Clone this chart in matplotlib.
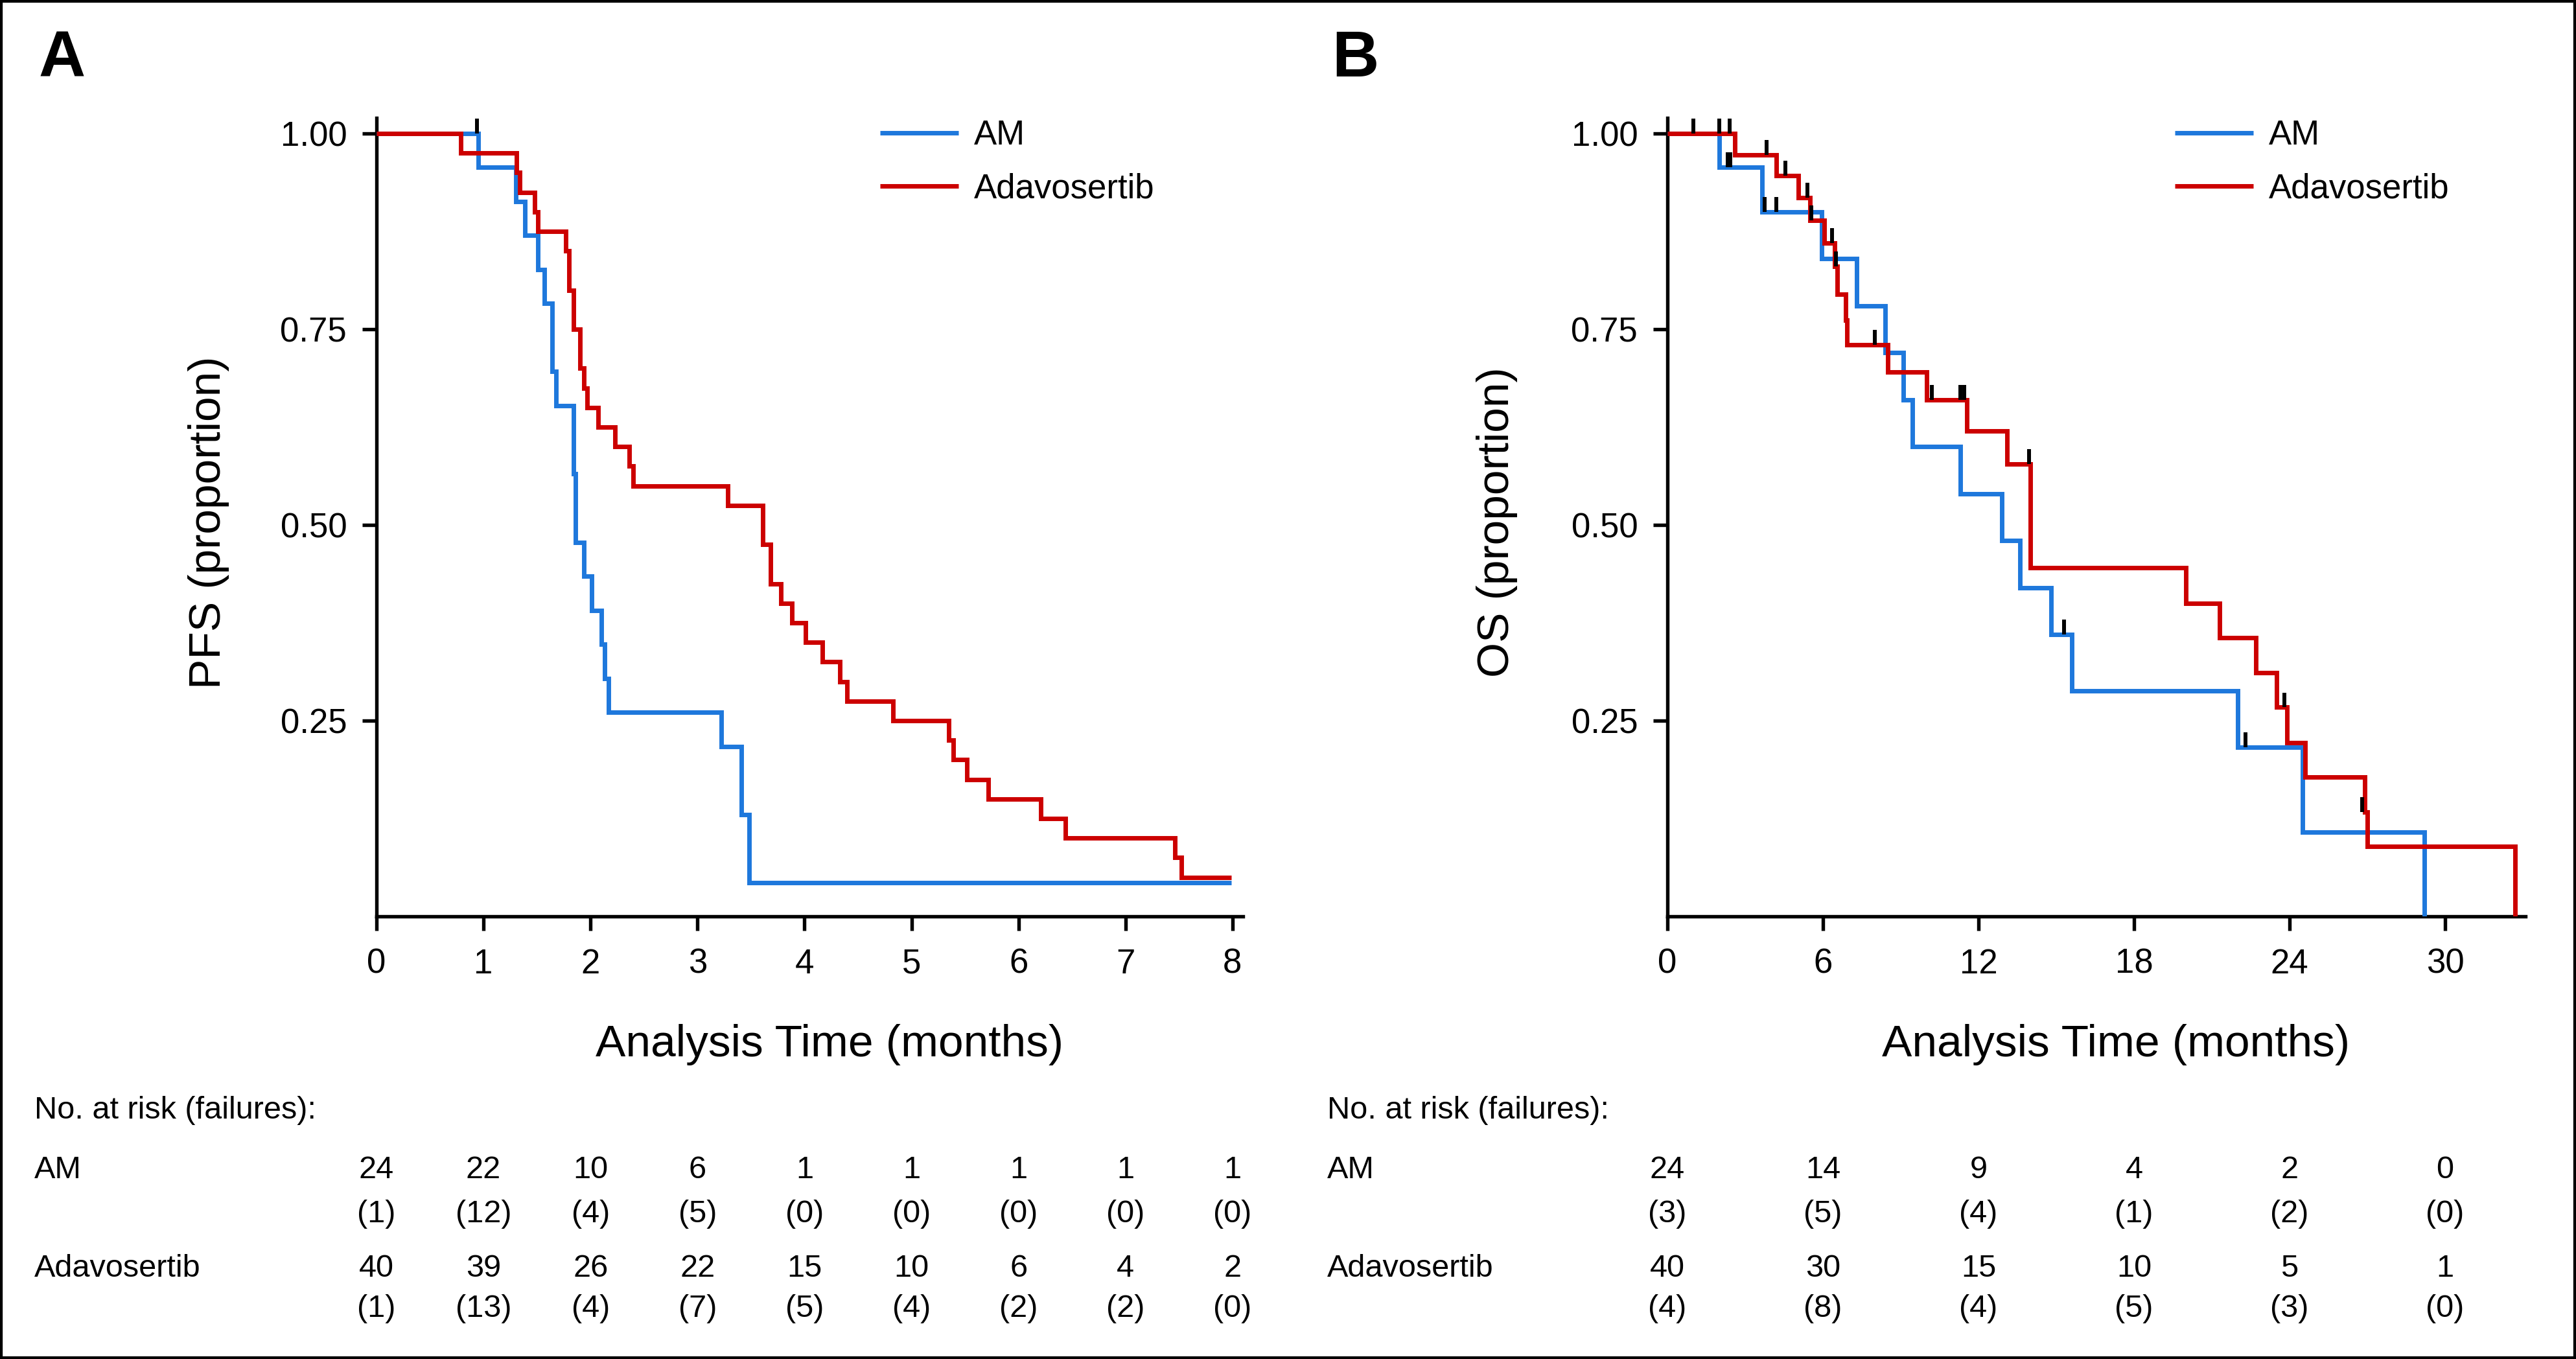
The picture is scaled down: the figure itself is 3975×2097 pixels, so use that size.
import matplotlib
matplotlib.use('Agg')
import matplotlib.pyplot as plt
import matplotlib.transforms as mtransforms
from matplotlib.patches import Rectangle

plt.rcParams['font.family'] = ['Liberation Sans', 'DejaVu Sans']

BLUE = '#1e78dc'
RED = '#cc0000'

# ---- Panel A: PFS (step times in months, survival after each step) ----
pfs_am_t = [0, 0.95, 1.30, 1.39, 1.51, 1.57, 1.64, 1.68, 1.84, 1.86, 1.94,
            2.01, 2.10, 2.13, 2.17, 3.22, 3.41, 3.48, 7.99]
pfs_am_s = [1.0, 0.957, 0.913, 0.870, 0.826, 0.783, 0.696, 0.652, 0.565, 0.478, 0.435,
            0.391, 0.348, 0.304, 0.261, 0.217, 0.130, 0.043, 0.043]
pfs_am_cens_t = [0.94]
pfs_am_cens_s = [1.0]

pfs_ad_t = [0, 0.79, 1.31, 1.34, 1.48, 1.51, 1.77, 1.80, 1.84, 1.90, 1.94, 1.97,
            2.07, 2.23, 2.36, 2.40, 3.28, 3.61, 3.68, 3.78, 3.88, 4.01, 4.17, 4.33,
            4.40, 4.83, 5.35, 5.39, 5.52, 5.72, 6.21, 6.44, 7.46, 7.52, 7.99]
pfs_ad_s = [1.0, 0.975, 0.95, 0.925, 0.90, 0.875, 0.85, 0.80, 0.75, 0.70, 0.675, 0.65,
            0.625, 0.60, 0.575, 0.55, 0.525, 0.475, 0.425, 0.40, 0.375, 0.35, 0.325, 0.30,
            0.275, 0.25, 0.225, 0.20, 0.175, 0.15, 0.125, 0.10, 0.075, 0.05, 0.05]

# ---- Panel B: OS ----
os_am_t = [0, 2.0, 3.65, 5.95, 7.3, 8.4, 9.1, 9.45, 11.3, 12.9, 13.6, 14.8, 15.6,
           22.0, 24.5, 29.2]
os_am_s = [1.0, 0.957, 0.90, 0.84, 0.78, 0.72, 0.66, 0.60, 0.54, 0.48, 0.42, 0.36, 0.288,
           0.216, 0.108, 0.0]
os_am_cens_t = [2.33, 2.42, 3.74, 4.2, 15.3, 22.3]
os_am_cens_s = [0.957, 0.957, 0.90, 0.90, 0.36, 0.216]

os_ad_t = [0, 2.6, 4.2, 5.05, 5.5, 6.05, 6.45, 6.55, 6.88, 6.92, 8.5, 10.0, 11.55,
           13.1, 14.0, 20.0, 21.3, 22.7, 23.5, 23.9, 24.6, 26.9, 27.0, 32.7]
os_ad_s = [1.0, 0.973, 0.946, 0.918, 0.889, 0.86, 0.83, 0.795, 0.762, 0.73, 0.695, 0.66, 0.62,
           0.578, 0.445, 0.40, 0.356, 0.311, 0.267, 0.222, 0.178, 0.133, 0.089, 0.0]
os_ad_cens_t = [1.0, 1.99, 2.39, 3.82, 4.55, 5.4, 5.55, 6.35, 6.5, 8.0, 10.2, 11.3, 11.45,
                13.95, 23.8, 26.8]
os_ad_cens_s = [1.0, 1.0, 1.0, 0.973, 0.946, 0.918, 0.889, 0.86, 0.83, 0.73, 0.66, 0.66, 0.66,
                0.578, 0.267, 0.133]

# ---- risk tables ----
pfs_times = [0, 1, 2, 3, 4, 5, 6, 7, 8]
pfs_am_risk = [24, 22, 10, 6, 1, 1, 1, 1, 1]
pfs_am_fail = [1, 12, 4, 5, 0, 0, 0, 0, 0]
pfs_ad_risk = [40, 39, 26, 22, 15, 10, 6, 4, 2]
pfs_ad_fail = [1, 13, 4, 7, 5, 4, 2, 2, 0]

os_times = [0, 6, 12, 18, 24, 30]
os_am_risk = [24, 14, 9, 4, 2, 0]
os_am_fail = [3, 5, 4, 1, 2, 0]
os_ad_risk = [40, 30, 15, 10, 5, 1]
os_ad_fail = [4, 8, 4, 5, 3, 0]

W, H = 3975, 2097
fig = plt.figure(figsize=(W / 100, H / 100), dpi=100)
fig.patches.append(Rectangle((0, 0), 1, 1, transform=fig.transFigure, fill=False,
                             lw=6, ec='black', zorder=10))

Y0, Y1 = 1414, 206  # pixel rows of S=0 and S=1
TICK_FS = 38
LABEL_FS = 50
TABLE_FS = 35


def make_axes(x0, px_per_unit, xmax):
    top = Y0 - 1.02 * (Y0 - Y1)
    ax = fig.add_axes([x0 / W, 1 - Y0 / H, xmax * px_per_unit / W, (Y0 - top) / H])
    ax.set_xlim(0, xmax)
    ax.set_ylim(0, 1.02)
    for s in ['top', 'right']:
        ax.spines[s].set_visible(False)
    for s in ['left', 'bottom']:
        ax.spines[s].set_linewidth(3.9)
    ax.tick_params(width=3.9, length=16, labelsize=TICK_FS, direction='out')
    ax.tick_params(axis='y', pad=17)
    ax.tick_params(axis='x', pad=19)
    ax.set_yticks([0.25, 0.5, 0.75, 1.0])
    ax.set_yticklabels(['0.25', '0.50', '0.75', '1.00'])
    return ax


def draw_panel(ax, am_t, am_s, ad_t, ad_s, cens_t, cens_s):
    ax.step(am_t, am_s, where='post', color=BLUE, lw=5, label='AM',
            solid_joinstyle='miter', solid_capstyle='butt', zorder=3)
    ax.step(ad_t, ad_s, where='post', color=RED, lw=5, label='Adavosertib',
            solid_joinstyle='miter', solid_capstyle='butt', zorder=4)
    ax.vlines(cens_t, cens_s, [s + 0.019 for s in cens_s], color='black', lw=4.3, zorder=5)


def legend(ax, x_px):
    ax.legend(loc='upper left', bbox_to_anchor=(x_px / W, 1 - 184 / H),
              bbox_transform=fig.transFigure, frameon=False, fontsize=TICK_FS,
              handlelength=2.3, handletextpad=0.45, labelspacing=0.62,
              borderpad=0, borderaxespad=0)


def risk_table(ax, label_x, times, am_r, am_f, ad_r, ad_f):
    tr = mtransforms.blended_transform_factory(ax.transData, fig.transFigure)
    fs = TABLE_FS
    fig.text(label_x / W, 1 - 1714 / H, 'No. at risk (failures):', fontsize=fs,
             ha='left', va='center')
    fig.text(label_x / W, 1 - 1805 / H, 'AM', fontsize=fs, ha='left', va='center')
    fig.text(label_x / W, 1 - 1957 / H, 'Adavosertib', fontsize=fs, ha='left', va='center')
    for t, r, f in zip(times, am_r, am_f):
        ax.text(t, 1 - 1805 / H, str(r), transform=tr, fontsize=fs, ha='center', va='center')
        ax.text(t, 1 - 1873 / H, '(%d)' % f, transform=tr, fontsize=fs, ha='center', va='center')
    for t, r, f in zip(times, ad_r, ad_f):
        ax.text(t, 1 - 1957 / H, str(r), transform=tr, fontsize=fs, ha='center', va='center')
        ax.text(t, 1 - 2020 / H, '(%d)' % f, transform=tr, fontsize=fs, ha='center', va='center')


# Panel A
axA = make_axes(581, 165.1, 8.1)
axA.set_xticks(pfs_times)
draw_panel(axA, pfs_am_t, pfs_am_s, pfs_ad_t, pfs_ad_s, pfs_am_cens_t, pfs_am_cens_s)
axA.set_xlabel('Analysis Time (months)', fontsize=LABEL_FS, va='center')
axA.xaxis.set_label_coords(0.5 + 30 / (8.1 * 165.1), -(1612 - 1414) / (1.02 * (Y0 - Y1)))
axA.set_ylabel('PFS (proportion)', fontsize=LABEL_FS, va='center')
axA.yaxis.set_label_coords(-(581 - 322) / (8.1 * 165.1), 0.4935)
legend(axA, 1358)
risk_table(axA, 53, pfs_times, pfs_am_risk, pfs_am_fail, pfs_ad_risk, pfs_ad_fail)
fig.text(60 / W, 1 - 92 / H, 'A', fontsize=72, fontweight='bold', ha='left', va='center')

# Panel B
axB = make_axes(2573, 40.0, 33.1)
axB.set_xticks(os_times)
draw_panel(axB, os_am_t, os_am_s, os_ad_t, os_ad_s,
           os_am_cens_t + os_ad_cens_t, os_am_cens_s + os_ad_cens_s)
axB.set_xlabel('Analysis Time (months)', fontsize=LABEL_FS, va='center')
axB.xaxis.set_label_coords(0.5 + 30 / (33.1 * 40.0), -(1612 - 1414) / (1.02 * (Y0 - Y1)))
axB.set_ylabel('OS (proportion)', fontsize=LABEL_FS, va='center')
axB.yaxis.set_label_coords(-(2573 - 2310) / (33.1 * 40.0), 0.4935)
legend(axB, 3356)
risk_table(axB, 2048, os_times, os_am_risk, os_am_fail, os_ad_risk, os_ad_fail)
fig.text(2055 / W, 1 - 92 / H, 'B', fontsize=72, fontweight='bold', ha='left', va='center')

fig.savefig('out.png', dpi=100)
